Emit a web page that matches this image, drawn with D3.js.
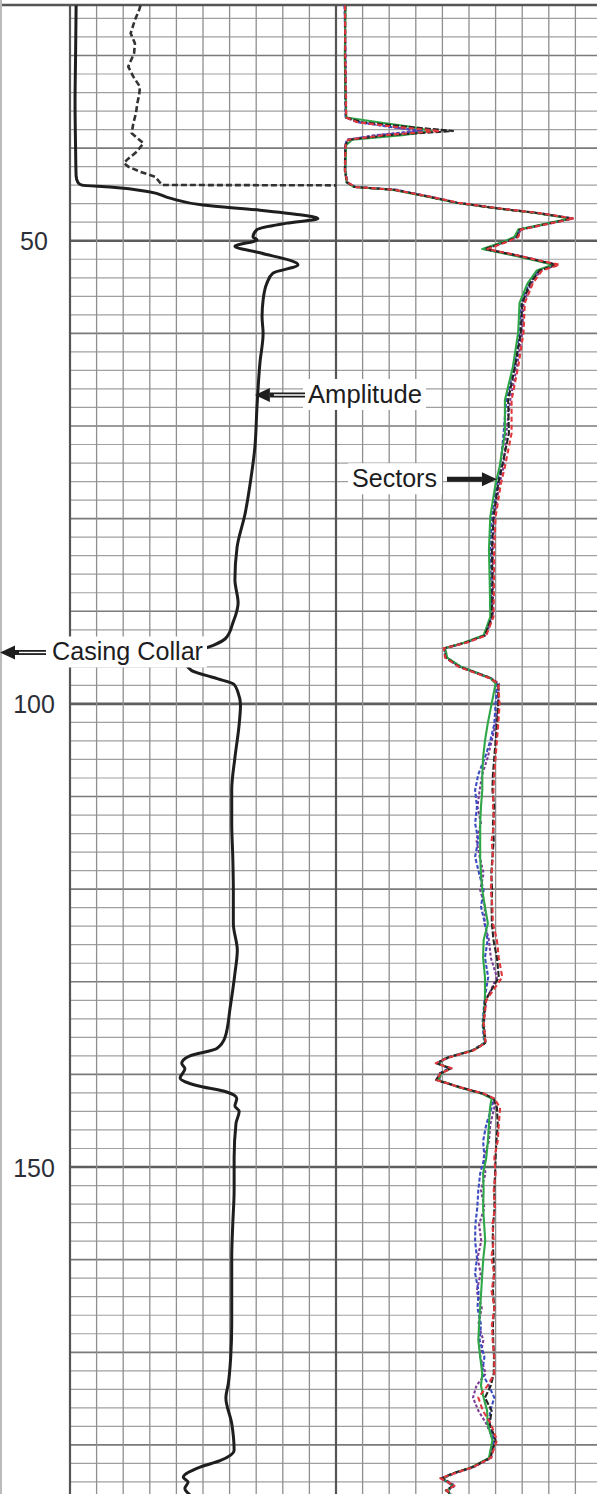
<!DOCTYPE html>
<html>
<head>
<meta charset="utf-8">
<script src="https://cdn.jsdelivr.net/npm/d3@7"></script>
<style>
  html, body { margin: 0; padding: 0; background: #fff; }
  svg { display: block; }
  text { font-family: "Liberation Sans", Arial, sans-serif; }
</style>
</head>
<body>
<svg id="chart"></svg>
<script>
// depth (ft) labels on the left
let depthLabels = [50, 100, 150];

// amplitude curve, left track (0-100 across the track)
let ampDepth = [24.6,30,35,40,43.0,43.7,44.0,44.2,44.7,45.4,
  46.15,46.7,47.2,47.6,48.1,48.8,49.6,49.9,50.6,51.3,
  52.6,53.5,54.6,56.4,58.2,60.0,63.2,67.9,72.3,75.7,
  79.5,83.1,86.6,89.1,91.2,92.9,93.6,94.1,94.8,95.5,
  96.4,96.9,97.3,97.9,98.8,100.1,102.2,105.8,109.3,112.9,
  116.6,120.1,123.7,126.6,129.1,132.8,136.0,137.2,138.0,138.8,
  139.4,140.4,141.2,141.9,142.6,143.4,144.0,145.3,149.0,152.5,
  156.1,159.8,163.4,166.9,170.6,173.4,174.9,177.7,180.6,181.7,
  182.4,183.5,184.0,184.7,185.4];
let ampValue = [2.3,2.1,1.9,2.1,2.3,3.0,4.5,15,29.7,37.6,
  50,71.4,86.5,93.2,81.6,70.3,68.8,70.3,62,71.4,
  85.7,76.3,74,72.6,72.2,72.6,71.4,70.3,69.5,68,
  65.8,62.8,62,63.2,61.3,58.6,54.5,50,45.9,43.6,
  45.7,50.8,55.6,61.7,63.2,64.1,63.6,62,60.8,60.8,
  61.2,61.4,61.4,62.9,62,60.2,58.3,55.2,45.1,42,
  43.2,41.4,47.6,58.9,62.7,62,63.6,62.4,61.7,61.7,
  61.2,60.8,60.8,60.8,60.4,59.5,58.6,60.8,61.7,56.4,
  48.9,42.6,44.4,43.2,45.1];

// dashed curve at the top of the left track
let dashDepth = [24.6,25.08,26.16,26.89,27.6,28.68,29.76,31.2,32.29,33.37,
  34.27,35.16,36.24,37.32,38.4,39.48,40.39,41.29,41.64,42.0,
  42.55,43.09,43.63,43.98,44.02];
let dashValue = [26.5,26,24.4,23.6,22.8,24.4,24.1,21.9,23.8,26.3,
  26,25.3,24.8,23.8,23.2,27.6,25.1,21.3,20.3,21.9,
  26.3,32,33.6,34.5,100];

// sector curves, right track
let sectorDepth = [24.6,30,34,36.7,37.2,37.7,38.15,38.6,39.1,39.7,
  42.4,43.7,44.2,44.5,45.25,45.9,46.5,47.0,47.6,48.1,
  48.8,49.6,50.1,50.9,51.5,52.1,52.6,53.2,54.6,56.7,
  59.9,63.6,67.2,70.8,74.4,76.2,79.8,83.4,87.0,90.6,
  92.6,93.4,94.0,95.0,96.0,97.2,97.8,100.0,102.2,104,
  105.8,107.6,109.3,111.1,112.9,114.7,116.5,118.3,120.1,121.9,
  123.7,125.5,127.4,129.5,132.0,134.5,136.6,137.4,138.2,138.8,
  139.35,139.9,140.6,141.4,142.1,142.6,143.6,145.4,147.2,149,
  150.7,152.5,154.4,156.2,158.0,159.8,161.5,163.4,165.2,167,
  168.7,170.5,172.3,173.6,174.9,176.3,177.7,179.5,181.4,182.4,
  183.1,183.6,184.4,184.9,185.4];
let sectorRed = [3.4,3.5,3.7,3.8,8,22,39,18,4.5,3.6,
  3.4,4.2,7.5,22,35.5,46,61,76,89.5,81,
  69.5,68.5,64.5,57,67,76,84,77.5,74,71,
  70.5,68.5,66,66,63.5,62,60,59.5,59.4,59.2,
  56.5,49,40.5,41,46.2,57.5,61,61.5,61,60.5,
  60,59.5,59.2,59,59.5,58.5,59,58.5,58.2,58.8,
  59,60.5,61.2,62.5,56.5,55.5,56.2,51.8,42,37.5,
  43.5,39.2,37.8,46.8,55.8,59.5,61.7,61.2,60.8,59.5,
  60,59.3,59.8,58.8,59.3,58.4,59.5,58.5,59.6,58.6,
  58.9,59.5,59.5,57,53.5,55.2,58.2,60.5,58.2,51.5,
  44.2,39.2,44.5,41.5,43.5];
let sectorGreen = [3.6,3.3,3.5,3.9,16,28,36,25,6,3.8,
  3.5,4.0,6.8,21,34.5,45,60,75,88,80,
  68.5,67,63,55,65.5,74.5,81.5,75.5,72,69,
  68.5,66.5,63.5,63.5,61.5,60,58,57.5,57.8,58,
  55.5,48,41,41.8,47,58,60,58.5,57,56,
  55.3,55,55,54.5,54.2,54.2,54.2,54.5,55,56,
  57.1,55.5,55.3,56,56,55.3,56,51.5,41.7,38.2,
  42.9,39.6,38.4,46.2,55,58.5,57.9,57.5,57.1,56.5,
  55.3,55.5,55.3,55.7,56.1,55.4,55,54.6,54.2,53.8,
  53.5,54.2,55,54.5,55.5,56.8,57,58.8,57.5,51,
  43.8,40,44,42,43];
let sectorBlue = [3.2,3.6,3.4,3.6,9,20,33,16,4.2,3.4,
  3.6,4.3,7.2,23,35,45.5,60.5,75.5,88.5,80.5,
  69,67.5,63.5,55.5,66,75,82,76,72.5,69.5,
  69,67,64,63,61.8,60.5,58.5,58,58.2,58.4,
  55.8,48.2,40.8,41.4,46.6,57.6,60.5,60,59.5,58,
  56,53.5,52.3,53,52.3,53.5,52.3,53.8,55.5,54.5,
  56,57,56,57.2,55.8,55.1,55.7,51.2,41.4,38,
  42.4,38.8,38.1,46.5,55.2,58.8,58.5,56.5,55.3,55.8,
  54.2,53.5,53.1,52.4,52.3,53,52.3,53.6,53.2,54.5,
  54,55.8,54.9,57.5,59.5,58,57.5,59.5,57.8,51.3,
  44,39.6,43.8,41.8,43.2];
let sectorBlack = [3.5,3.4,3.6,3.7,10,27,44,20,4.8,3.5,
  3.3,4.1,7.0,22,35,45.5,60.5,75.5,89,80.5,
  69,68,64,56,66.5,75.5,83,76.5,73,70,
  69.5,67.3,64.7,65,62.4,61,59.2,58.6,58.8,58.6,
  56,48.5,40.6,41.2,46.4,57.9,61,61,60.5,60,
  59.5,59,58.8,59.5,59,59.3,58.8,58.4,58.7,58.5,
  58.6,59.2,60.5,61.2,56.2,55.4,56.1,51.6,41.8,37.8,
  43.2,39.1,37.6,46.9,55.6,59.2,60.5,60.8,60.3,60,
  59.8,59.5,59.6,59.1,58.9,59.2,59.4,59,59.5,59,
  59.1,59.4,59.3,58.2,56,58.5,57.8,60,58,51.2,
  43.6,39.8,44.2,41.3,43.6];
let sectorPurple = [3.3,3.5,3.8,3.8,8,21,31,15,4.1,3.6,
  3.5,4.0,7.3,22,35.5,46,61,76,89,81,
  69.5,68,64,56.5,67,76,83.5,77,73.5,70.5,
  70,68,65.5,64,63,61.5,59.5,59,59,59,
  56.2,48.8,41.2,41.6,47,58.2,61.2,61,60,58.5,
  57,55,54,53.2,54.5,52.8,54,55.5,54.2,56,
  55.8,57.5,58.2,60.5,56.4,55.6,56.3,51.5,42.2,38.4,
  42.6,39.8,38.6,46.3,55.3,59,59.5,58,57.5,55.5,
  56.2,54.5,55.8,53.8,54.6,53.2,54.4,52.9,54.8,53.5,
  55.4,54.2,56.3,52.8,51.5,53.5,56.5,59.2,58.4,51.8,
  44.5,40.2,44.8,42.2,42.8];

// annotation labels and the depth they sit at
let noteText = ['Casing Collar', 'Amplitude', 'Sectors'];
let noteDepth = [94.45, 66.65, 75.75];

let w = 597;
let h = 1494;

function makeLog() {
  let svg = d3.select('#chart')
    .attr('width', w)
    .attr('height', h);

  let y = d3.scaleLinear().domain([24.55, 185.3]).range([5, h]);
  let x1 = d3.scaleLinear().domain([0, 100]).range([70, 336]);
  let x2 = d3.scaleLinear().domain([0, 100]).range([336, 602]);

  // GRID
  let grid = svg.append('g');
  let hLines = d3.range(26, 186, 2);
  grid.selectAll('line.h')
    .data(hLines)
    .enter()
    .append('line')
    .attr('class', 'h')
    .attr('x1', x1(0)).attr('x2', w)
    .attr('y1', (d) => y(d)).attr('y2', (d) => y(d))
    .attr('stroke', (d) => d % 50 === 0 ? '#5e5e5e' : d % 10 === 0 ? '#7a7a7a' : '#a0a0a0')
    .attr('stroke-width', (d) => d % 50 === 0 ? 2.6 : d % 10 === 0 ? 1.7 : 1.2);

  let vTicks = d3.range(0, 101, 10);
  [x1, x2].forEach((xs, i) => {
    grid.selectAll('line.v' + i)
      .data(vTicks)
      .enter()
      .append('line')
      .attr('class', 'v' + i)
      .attr('x1', (d) => xs(d)).attr('x2', (d) => xs(d))
      .attr('y1', y(24.55)).attr('y2', h)
      .attr('stroke', (d) => d === 0 ? '#555' : '#8f8f8f')
      .attr('stroke-width', (d) => d === 0 ? 2.2 : 1.3);
  });

  // top border and faint scan edge
  grid.append('line')
    .attr('x1', 0).attr('x2', w)
    .attr('y1', y(24.55)).attr('y2', y(24.55))
    .attr('stroke', '#555').attr('stroke-width', 2.4);
  grid.append('line')
    .attr('x1', 1).attr('x2', 1)
    .attr('y1', 0).attr('y2', h)
    .attr('stroke', '#bbb').attr('stroke-width', 2);

  // depth labels
  let axis = svg.append('g')
    .call(d3.axisLeft(y).tickValues(depthLabels).tickSize(0).tickFormat(d3.format('d')));
  axis.select('.domain').remove();
  axis.selectAll('text')
    .attr('x', 34)
    .attr('text-anchor', 'middle')
    .attr('dy', '0.36em')
    .attr('fill', '#2c2f38')
    .style('font-size', '25px')
    .style('font-family', '"Liberation Sans", Arial, sans-serif');

  // CURVES
  let zip = (ds, vs) => ds.map((d, i) => ({d: d, v: vs[i]}));

  let sectorLine = d3.line()
    .x((p) => x2(p.v))
    .y((p) => y(p.d));
  let sectors = [
    {vals: sectorPurple, color: '#7d3b98', dash: '3,2'},
    {vals: sectorBlue, color: '#3a4cc0', dash: '4,2'},
    {vals: sectorGreen, color: '#2fa648', dash: null},
    {vals: sectorBlack, color: '#262626', dash: '6,2'},
    {vals: sectorRed, color: '#e0383c', dash: '5,3'}
  ];
  svg.selectAll('path.sector')
    .data(sectors)
    .enter()
    .append('path')
    .attr('class', 'sector')
    .attr('d', (s) => sectorLine(zip(sectorDepth, s.vals)))
    .attr('fill', 'none')
    .attr('stroke', (s) => s.color)
    .attr('stroke-width', 2.1)
    .attr('stroke-dasharray', (s) => s.dash)
    .attr('stroke-linejoin', 'round');

  svg.append('path')
    .attr('d', d3.line().x((p) => x1(p.v)).y((p) => y(p.d))(zip(dashDepth, dashValue)))
    .attr('fill', 'none')
    .attr('stroke', '#333')
    .attr('stroke-width', 2.6)
    .attr('stroke-dasharray', '6,3');

  svg.append('path')
    .attr('d', d3.line().curve(d3.curveMonotoneY).x((p) => x1(p.v)).y((p) => y(p.d))(zip(ampDepth, ampValue)))
    .attr('fill', 'none')
    .attr('stroke', '#1e1e1e')
    .attr('stroke-width', 3)
    .attr('stroke-linejoin', 'round');

  // ANNOTATIONS
  let notes = [
    {tip: 0, tail: 46, tx: 52, len: 151, box: [47, 207], dir: -1, hollow: true},
    {tip: x1(69.5), tail: 305, tx: 308, len: 114, box: [303, 426], dir: -1, hollow: true},
    {tip: x2(60.5), tail: 447, tx: 352, len: 85, box: [348, 442], dir: 1, hollow: false}
  ];
  notes.forEach((n, i) => {
    let cy = y(noteDepth[i]);
    let g = svg.append('g');
    g.append('rect')
      .attr('x', n.box[0]).attr('y', cy - 16)
      .attr('width', n.box[1] - n.box[0]).attr('height', 31)
      .attr('fill', '#fff');
    g.append('text')
      .attr('x', n.tx).attr('y', cy + 8)
      .attr('textLength', n.len)
      .attr('lengthAdjust', 'spacingAndGlyphs')
      .attr('fill', '#1d1d1f')
      .style('font-size', '25px')
      .text(noteText[i]);
    let headLen = 15;
    let headBase = n.tip - n.dir * headLen;
    g.append('line')
      .attr('x1', headBase).attr('x2', n.tail)
      .attr('y1', cy).attr('y2', cy)
      .attr('stroke', '#1e1e1e').attr('stroke-width', 5);
    if (n.hollow) {
      g.append('line')
        .attr('x1', headBase - n.dir * 4).attr('x2', n.tail - n.dir * 3)
        .attr('y1', cy).attr('y2', cy)
        .attr('stroke', '#fff').attr('stroke-width', 1.4);
    }
    g.append('path')
      .attr('d', `M${n.tip},${cy} L${headBase},${cy - 7} L${headBase},${cy + 7} Z`)
      .attr('fill', '#1e1e1e');
  });
}

window.onload = function () {
  makeLog();
};
</script>
</body>
</html>
